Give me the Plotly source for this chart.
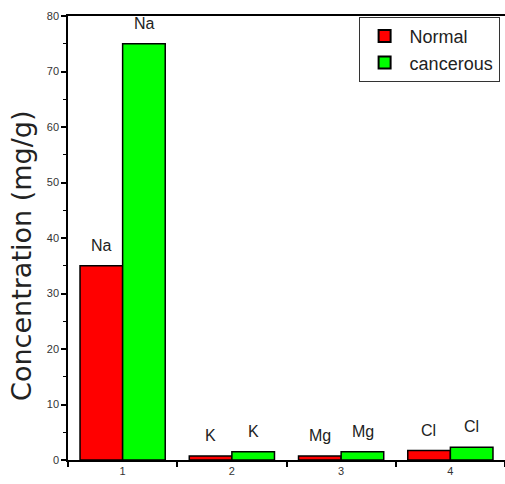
import plotly.graph_objects as go

categories = ["1", "2", "3", "4"]
elements = ["Na", "K", "Mg", "Cl"]
normal = [35.0, 0.7, 0.7, 1.7]
cancerous = [75.0, 1.5, 1.5, 2.3]

narrow = "Liberation Sans Narrow, Arial Narrow, Liberation Sans, Arial, sans-serif"

fig = go.Figure()
fig.add_trace(go.Bar(
    x=categories, y=normal, name="Normal",
    marker=dict(color="#ff0000", line=dict(color="black", width=1.5)),
))
fig.add_trace(go.Bar(
    x=categories, y=cancerous, name="cancerous",
    marker=dict(color="#00ff00", line=dict(color="black", width=1.5)),
))

# element labels above each bar (x given as category index)
for series, shift in ((normal, -21.5), (cancerous, 21.5)):
    for i, (v, e) in enumerate(zip(series, elements)):
        fig.add_annotation(
            x=i, y=v, text=e, showarrow=False,
            xshift=shift, yshift=10, yanchor="bottom",
            font=dict(family=narrow, size=16, color="#222"),
        )

# y-axis title
fig.add_annotation(
    xref="paper", yref="paper", x=-0.105, y=0.46,
    text="Concentration (mg/g)", textangle=-90, showarrow=False,
    xanchor="center", yanchor="middle",
    font=dict(family="DejaVu Sans", size=27, color="#222"),
)

fig.update_layout(
    width=505, height=484,
    margin=dict(l=68, r=0, t=16, b=24),
    paper_bgcolor="white", plot_bgcolor="white",
    barmode="group", bargap=0.22, bargroupgap=0,
    showlegend=True,
    legend=dict(
        x=0.665, y=0.998, xanchor="left", yanchor="top",
        bordercolor="#333", borderwidth=1, bgcolor="white",
        font=dict(family=narrow, size=18, color="#222"),
        itemsizing="constant", tracegroupgap=14,
        itemwidth=40,
    ),
    xaxis=dict(
        type="category", categoryorder="array", categoryarray=categories,
        range=[-0.5, 3.5], tickson="boundaries",
        showline=True, linecolor="black", linewidth=1.5, mirror=True,
        ticks="outside", ticklen=5, tickcolor="black", tickwidth=1.5,
        showgrid=False, zeroline=False,
        tickfont=dict(family=narrow, size=11, color="#333"),
    ),
    yaxis=dict(
        range=[0, 80], dtick=10,
        showline=True, linecolor="black", linewidth=1.5,
        ticks="outside", ticklen=5, tickcolor="black", tickwidth=1.5,
        minor=dict(dtick=5, ticks="outside", ticklen=3, tickcolor="black", tickwidth=1),
        showgrid=False, zeroline=False,
        tickfont=dict(family=narrow, size=11, color="#333"),
    ),
)

fig.write_html("out.html")
